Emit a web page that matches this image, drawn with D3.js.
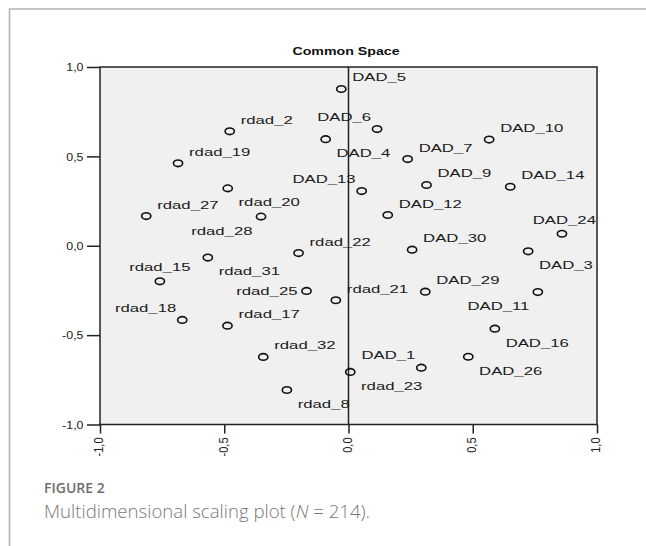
<!DOCTYPE html>
<html>
<head>
<meta charset="utf-8">
<script src="https://cdn.jsdelivr.net/npm/d3@7"></script>
<style>
  body { margin: 0; background: #fff; }
  svg { display: block; }
</style>
</head>
<body>
<script>
// MDS object labels and their coordinates (dimension 1, dimension 2)
var labels = ["DAD_5", "rdad_2", "DAD_6", "DAD_4", "DAD_10", "rdad_19", "DAD_7", "rdad_20",
  "DAD_9", "DAD_14", "DAD_13", "rdad_27", "rdad_28", "DAD_12", "DAD_24", "rdad_31",
  "rdad_22", "DAD_30", "DAD_3", "rdad_15", "rdad_25", "rdad_21", "DAD_29", "DAD_11",
  "rdad_18", "rdad_17", "DAD_16", "rdad_32", "DAD_26", "DAD_1", "rdad_23", "rdad_8"];
var dim1 = [-0.029, -0.478, 0.115, -0.092, 0.566, -0.686, 0.238, -0.486,
  0.314, 0.651, 0.053, -0.814, -0.352, 0.158, 0.859, -0.566,
  -0.201, 0.256, 0.723, -0.759, -0.169, -0.051, 0.309, 0.762,
  -0.669, -0.487, 0.589, -0.343, 0.482, 0.293, 0.007, -0.248];
var dim2 = [0.877, 0.640, 0.653, 0.596, 0.594, 0.461, 0.485, 0.321,
  0.340, 0.330, 0.306, 0.166, 0.163, 0.172, 0.067, -0.066,
  -0.041, -0.022, -0.031, -0.199, -0.253, -0.305, -0.257, -0.259,
  -0.415, -0.447, -0.464, -0.622, -0.621, -0.682, -0.706, -0.807];

// where each label sits around its point (ur = upper right, lr = lower right, ...)
var labelPlace = ["ur", "ur", "ul", "lr", "ur", "ur", "ur", "lr",
  "ur", "ur", "ul", "ur", "ll", "ur", "ur", "lr",
  "ur", "ur", "lr", "uc", "l", "ur", "ur", "ll",
  "ul", "ur", "lr", "ur", "lr", "ul", "lr", "lr"];

var xTicks = [-1, -0.5, 0, 0.5, 1];
var yTicks = [-1, -0.5, 0, 0.5, 1];
var chartTitle = "Common Space";

var svgWidth = 646;
var svgHeight = 546;
var plot = { left: 100, right: 597, top: 67, bottom: 424.5 };

var svg = d3.select("body").append("svg")
  .attr("width", svgWidth)
  .attr("height", svgHeight);

var font = "'Liberation Sans', Arial, sans-serif";

// figure frame (top + left grey rule)
svg.append("path")
  .attr("d", "M9.5,546 V9 H646")
  .attr("fill", "none")
  .attr("stroke", "#b3b3b3")
  .attr("stroke-width", 1.6);

var xScale = d3.scaleLinear().domain([-1, 1]).range([plot.left, plot.right]);
var yScale = d3.scaleLinear().domain([-1, 1]).range([plot.bottom, plot.top]);

var fmt = d3.formatLocale({ decimal: ",", thousands: ".", grouping: [3], currency: ["", ""], minus: "-" }).format(".1f");

// plot background
svg.append("rect")
  .attr("x", plot.left)
  .attr("y", plot.top)
  .attr("width", plot.right - plot.left)
  .attr("height", plot.bottom - plot.top)
  .attr("fill", "#f0f0f0");

// SPSS output is stretched sideways, so text gets a horizontal scale
function stretch(sel, sx) {
  sel.each(function () {
    var t = d3.select(this);
    var x = +t.attr("x") || 0, y = +t.attr("y") || 0;
    t.attr("transform", `translate(${x},${y}) scale(${sx},1)`).attr("x", 0).attr("y", 0);
  });
}

// y axis
var leftAxis = d3.axisLeft(yScale).tickValues(yTicks).tickFormat(fmt).tickSize(13).tickSizeOuter(0).tickPadding(3.5);
var gy = svg.append("g")
  .attr("transform", `translate(${plot.left},0)`)
  .call(leftAxis);
gy.select(".domain").remove();
gy.selectAll("line").attr("stroke", "#222").attr("stroke-width", 1.5);
gy.selectAll("text")
  .attr("font-family", font)
  .attr("font-size", 11)
  .attr("fill", "#222")
  .attr("dy", "0.34em")
  .call(stretch, 1.13);

// x axis with rotated labels
var bottomAxis = d3.axisBottom(xScale).tickValues(xTicks).tickFormat(fmt).tickSize(9).tickSizeOuter(0);
var gx = svg.append("g")
  .attr("transform", `translate(0,${plot.bottom})`)
  .call(bottomAxis);
gx.select(".domain").remove();
gx.selectAll("line").attr("stroke", "#222").attr("stroke-width", 1.5);
gx.selectAll("text")
  .attr("font-family", font)
  .attr("font-size", 11)
  .attr("fill", "#222")
  .attr("x", 0)
  .attr("y", 0)
  .attr("dy", "0.22em")
  .attr("text-anchor", "end")
  .attr("transform", "translate(0,13) scale(1.15,1) rotate(-90)");

// frame and zero line
svg.append("rect")
  .attr("x", plot.left)
  .attr("y", plot.top)
  .attr("width", plot.right - plot.left)
  .attr("height", plot.bottom - plot.top)
  .attr("fill", "none")
  .attr("stroke", "#222")
  .attr("stroke-width", 1.5);

svg.append("line")
  .attr("x1", xScale(0)).attr("x2", xScale(0))
  .attr("y1", plot.top).attr("y2", plot.bottom)
  .attr("stroke", "#222")
  .attr("stroke-width", 1.5);

// title
svg.append("text")
  .attr("x", (plot.left + plot.right) / 2 - 2.5)
  .attr("y", 55)
  .attr("text-anchor", "middle")
  .attr("font-family", font)
  .attr("font-size", 11)
  .attr("font-weight", "bold")
  .attr("fill", "#111")
  .text(chartTitle)
  .call(stretch, 1.29);

var points = labels.map(function (name, i) {
  return { name: name, x: dim1[i], y: dim2[i], place: labelPlace[i] };
});

svg.append("g").selectAll("ellipse")
  .data(points)
  .enter()
  .append("ellipse")
  .attr("cx", d => xScale(d.x))
  .attr("cy", d => yScale(d.y))
  .attr("rx", 4.6)
  .attr("ry", 3.3)
  .attr("fill", "none")
  .attr("stroke", "#111")
  .attr("stroke-width", 1.6);

var offsets = {
  ur: [11, -7.5, "start"],
  lr: [10.8, 17.9, "start"],
  ul: [-6, -8.3, "end"],
  ll: [-8.5, 18.1, "end"],
  l: [-9, 4, "end"],
  uc: [0, -10.5, "middle"]
};
var labelSx = 1.52;

svg.append("g").selectAll("text")
  .data(points)
  .enter()
  .append("text")
  .attr("font-family", font)
  .attr("font-size", 11)
  .attr("fill", "#1a1a1a")
  .attr("text-anchor", d => offsets[d.place][2])
  .text(d => d.name)
  .each(function (d) {
    var o = offsets[d.place];
    var x = xScale(d.x) + o[0];
    var y = yScale(d.y) + o[1];
    var w = this.getComputedTextLength() * labelSx;
    // keep labels inside the frame
    if (o[2] === "start" && x + w > plot.right - 1) {
      x = plot.right - 1 - w;
      y -= 2;
    }
    d3.select(this).attr("transform", `translate(${x},${y}) scale(${labelSx},1)`);
  });

// caption
svg.append("text")
  .attr("x", 44)
  .attr("y", 493)
  .attr("font-family", "'Open Sans', sans-serif")
  .attr("font-size", 14)
  .attr("font-weight", 600)
  .attr("fill", "#6e6e6e")
  .text("FIGURE 2");

var cap = svg.append("text")
  .attr("x", 44)
  .attr("y", 517.5)
  .attr("font-family", "'Open Sans', sans-serif")
  .attr("font-size", 18.6)
  .attr("font-weight", 300)
  .attr("fill", "#777");
cap.append("tspan").text("Multidimensional scaling plot (");
cap.append("tspan").attr("font-style", "italic").text("N");
cap.append("tspan").text(" = 214).");
</script>
</body>
</html>
